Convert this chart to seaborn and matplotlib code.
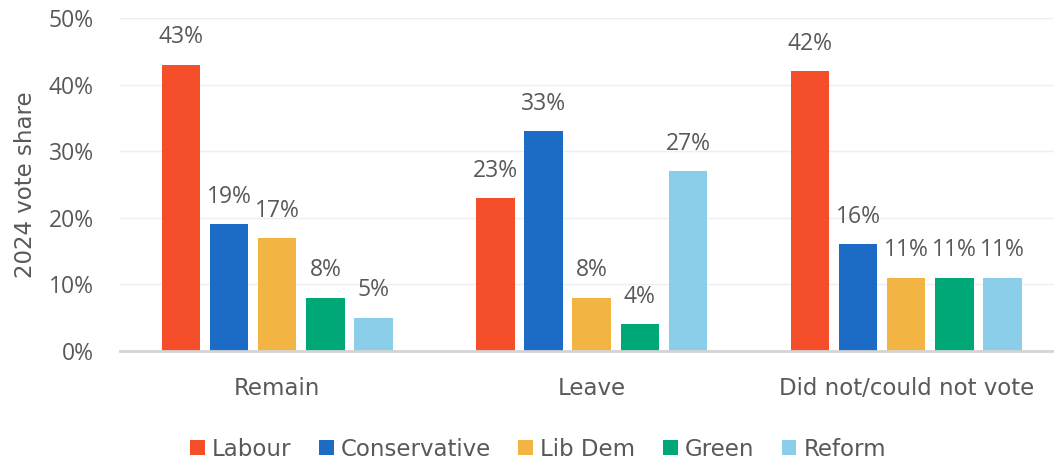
import numpy as np
import pandas as pd
import matplotlib
matplotlib.use("Agg")
from matplotlib import pyplot as plt
import seaborn as sns

sns.set_theme(style="white")
plt.rcParams['font.family'] = ['DejaVu Sans']

# data
groups = ["Remain", "Leave", "Did not/could not vote"]
parties = ["Labour", "Conservative", "Lib Dem", "Green", "Reform"]
labour = [43, 23, 42]
conservative = [19, 33, 16]
lib_dem = [17, 8, 11]
green = [8, 4, 11]
reform = [5, 27, 11]
colors = ["#F44E2B", "#1C6BC4", "#F2B443", "#00A878", "#8ACEEA"]

values = [labour, conservative, lib_dem, green, reform]
rows = []
for p, vals in zip(parties, values):
    for g, v in zip(groups, vals):
        rows.append({"group": g, "party": p, "share": v})
df = pd.DataFrame(rows)

text_col = "#595959"
fs = 16.5
num_font = ['Open Sans', 'DejaVu Sans']

fig = plt.figure(figsize=(10.54, 4.63), dpi=100)
ax = fig.add_axes([120 / 1054, 1 - 351 / 463, 1 - 120 / 1054, (351 - 18) / 463])

sns.barplot(data=df, x="group", y="share", hue="party", order=groups,
            hue_order=parties, palette=dict(zip(parties, colors)),
            width=0.765, gap=0.2, saturation=1, linewidth=0, ax=ax)

for c in ax.containers:
    ax.bar_label(c, labels=[f"{v:.0f}%" for v in c.datavalues],
                 padding=11, fontsize=fs, color=text_col, family=num_font)

ax.set_ylim(0, 50)
ax.set_xlim(-0.5, 2.47)
ax.set_yticks(range(0, 51, 10))
ax.set_yticklabels([f"{t}%" for t in range(0, 51, 10)], family=num_font)
ax.yaxis.grid(True, color="#EFEFEF", linewidth=1)
ax.set_axisbelow(True)
for s in ["top", "right", "left"]:
    ax.spines[s].set_visible(False)
ax.spines["bottom"].set_color("#D4D4D4")
ax.spines["bottom"].set_linewidth(2)
ax.tick_params(axis="both", length=0, labelsize=fs, labelcolor=text_col)
ax.tick_params(axis="x", pad=19)
ax.tick_params(axis="y", pad=19)
ax.set_xlabel("")
ax.set_ylabel("2024 vote share", fontsize=fs, color=text_col, labelpad=8)

ax.legend(loc="center", bbox_to_anchor=(538 / 1054, 1 - 449 / 463),
          bbox_transform=fig.transFigure, ncol=5, frameon=False,
          fontsize=fs, labelcolor=text_col, handlelength=0.65,
          handleheight=0.65, handletextpad=0.3, columnspacing=1.2)

plt.savefig("out.png", dpi=100)
